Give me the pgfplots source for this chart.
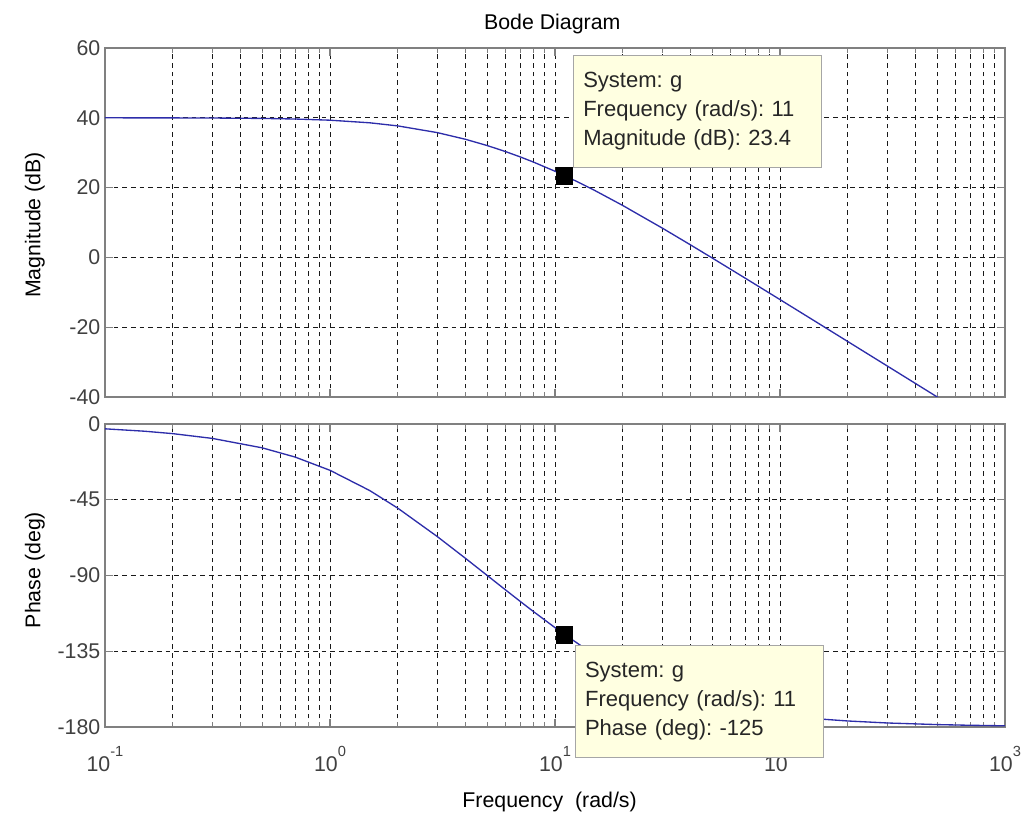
\documentclass[border=0pt]{standalone}
\usepackage{fontspec}
\setmainfont{Liberation Sans}
\usepackage{pgfplots}
\pgfplotsset{compat=1.18}
\frenchspacing

\definecolor{curve}{RGB}{45,45,170}
\definecolor{tipbg}{RGB}{255,255,225}
\newcommand{\ff}{\fontsize{16}{19}\selectfont}
\newcommand{\ex}[1]{\raisebox{11pt}{\fontsize{11}{11}\selectfont #1}}

% Bode plot: g = 100/((s/2.5+1)(s/10+1))
\pgfplotstableread{
w      mag      ph
0.1    39.993   -2.864
0.15   39.983   -4.293
0.2    39.971   -5.720
0.3    39.934   -8.561
0.5    39.819   -14.172
0.7    39.651   -19.646
1      39.312   -27.512
1.5    38.568   -39.495
2      37.681   -49.970
3      35.752   -66.893
4      33.841   -79.796
5      32.041   -90.000
6      30.365   -98.344
7      28.804   -105.338
8      27.344   -111.306
10     24.685   -120.964
11     23.468   -124.922
13     21.225   -131.545
15     19.199   -136.848
20     14.881   -146.310
30     8.386    -156.801
40     3.596    -162.388
50     -0.181   -165.828
70     -5.938   -169.825
100    -12.087  -172.857
150    -19.105  -175.231
200    -24.094  -176.422
300    -31.131  -177.614
500    -40.002  -178.568
700    -45.850  -178.977
1000   -52.040  -179.284
}\bode

\tikzset{
  tip/.style={draw=black!35, fill=tipbg, align=left, text width=171pt,
    inner xsep=7.5pt, minimum height=84pt, anchor=north west, text=black!85,
    font=\fontsize{16.5}{21.75}\selectfont},
}

\begin{document}
\begin{tikzpicture}
\useasboundingbox (0,0) rectangle (765.75pt,613.5pt);

\begin{axis}[
  scale only axis, width=675pt, height=261.75pt,
  at={(78.75pt,315.75pt)}, anchor=south west,
  xmode=log, xmin=0.1, xmax=1000,
  xtick={0.1,1,10,100,1000}, xticklabels={},
  ymin=-40, ymax=60, ytick={-40,-20,0,20,40,60},
  yticklabels={-40,-20,0,20,40,60},
  xmajorgrids, xminorgrids, ymajorgrids,
  grid style={dash pattern=on 3.5pt off 3pt, black!90, line width=0.65pt},
  axis line style={black!50, line width=0.9pt},
  tick style={black!50, line width=0.8pt},
  major tick length=6pt, minor tick length=3.5pt,
  tick align=inside,
  tick label style={font=\ff, text=black!75},
  label style={font=\ff},
  ylabel={Magnitude (dB)},
  ylabel style={at={(axis description cs:-0.078,0.493)}, anchor=center},
  title={Bode Diagram},
  title style={font=\ff, at={(axis description cs:0.497,1.0745)}, anchor=center, yshift=-7.5pt},
]
\addplot[curve, line width=1pt] table[x=w, y=mag] {\bode};
\addplot[only marks, mark=square*, mark size=6.3pt, black] coordinates {(11,23.4)};
\coordinate (tipA) at (rel axis cs:0.52,0.98);
\end{axis}

\begin{axis}[
  scale only axis, width=675pt, height=227.25pt,
  at={(78.75pt,68.25pt)}, anchor=south west,
  xmode=log, xmin=0.1, xmax=1000,
  xtick={0.1,1,10,100,1000},
  xticklabels={10\ex{-1}, 10\ex{0}, 10\ex{1}, 10\ex{2}, 10\ex{3}},
  xticklabel style={yshift=-11pt},
  ymin=-180, ymax=0, ytick={-180,-135,-90,-45,0},
  yticklabels={-180,-135,-90,-45,0},
  xmajorgrids, xminorgrids, ymajorgrids,
  grid style={dash pattern=on 3.5pt off 3pt, black!90, line width=0.65pt},
  axis line style={black!50, line width=0.9pt},
  tick style={black!50, line width=0.8pt},
  major tick length=6pt, minor tick length=3.5pt,
  tick align=inside,
  tick label style={font=\ff, text=black!75},
  label style={font=\ff},
  ylabel={Phase (deg)},
  ylabel style={at={(axis description cs:-0.078,0.518)}, anchor=center},
  xlabel={Frequency\ \ (rad/s)},
  xlabel style={at={(axis description cs:0.494,-0.2475)}, anchor=center},
]
\addplot[curve, line width=1pt] table[x=w, y=ph] {\bode};
\addplot[only marks, mark=square*, mark size=6.3pt, black] coordinates {(11,-125)};
\coordinate (tipB) at (rel axis cs:0.522,0.2706);
\end{axis}

\node[tip] at (tipA) {System: g\\Frequency (rad/s): 11\\Magnitude (dB): 23.4};
\node[tip] at (tipB) {System: g\\Frequency (rad/s): 11\\Phase (deg): -125};
\end{tikzpicture}
\end{document}
